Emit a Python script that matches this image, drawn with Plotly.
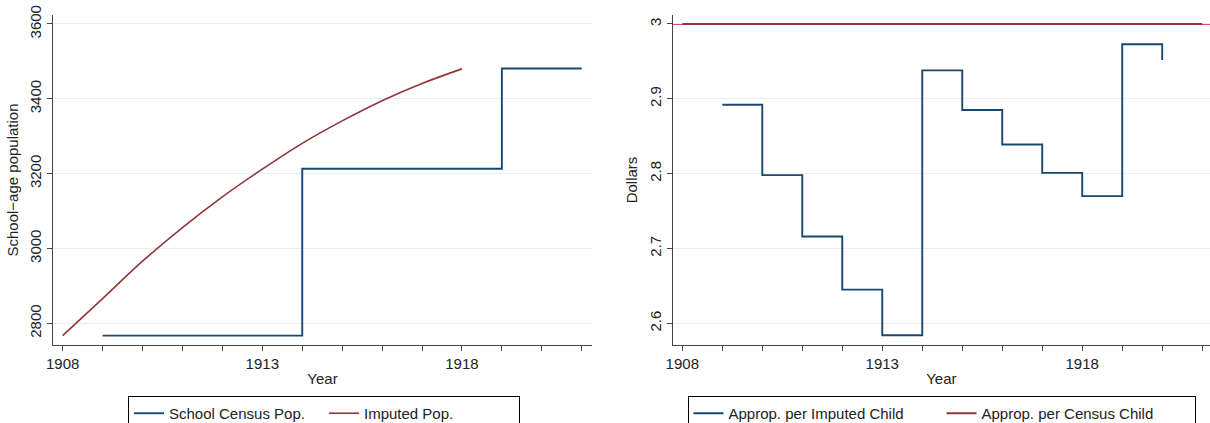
import plotly.graph_objects as go

# ---- data ----
census_years = [1909, 1910, 1911, 1912, 1913, 1914, 1915, 1916, 1917, 1918, 1919, 1920, 1921]
census_pop = [2767, 2767, 2767, 2767, 2767, 3213, 3213, 3213, 3213, 3213, 3481, 3481, 3481]

imputed_years = [1908, 1909, 1910, 1911, 1912, 1913, 1914, 1915, 1916, 1917, 1918]
imputed_pop = [2767, 2866, 2966, 3056, 3138, 3212, 3281, 3341, 3395, 3441, 3480]

approp_imp_years = [1909, 1910, 1911, 1912, 1913, 1914, 1915, 1916, 1917, 1918, 1919, 1920]
approp_imp = [2.892, 2.798, 2.716, 2.645, 2.584, 2.938, 2.885, 2.839, 2.801, 2.770, 2.973, 2.952]

approp_census_years = [1908, 1909, 1910, 1911, 1912, 1913, 1914, 1915, 1916, 1917, 1918, 1919, 1920, 1921]
approp_census = [3.0] * len(approp_census_years)

year_ticks = list(range(1908, 1922))
year_labels = [str(y) if y in (1908, 1913, 1918) else "" for y in year_ticks]
left_yticks = [2800, 3000, 3200, 3400, 3600]
right_yticks = [2.6, 2.7, 2.8, 2.9, 3.0]
right_yticklabels = ["2.6", "2.7", "2.8", "2.9", "3"]

BLUE = "#1a476f"
RED = "#90353b"
GRID = "#E6EEF0"
AXIS = "#444444"
FONT = "Liberation Sans, Arial, sans-serif"

W, H = 1210, 423
fig = go.Figure()

fig.add_trace(go.Scatter(x=census_years, y=census_pop, mode="lines", line_shape="hv",
                         line=dict(color=BLUE, width=1.9), name="School Census Pop.",
                         xaxis="x", yaxis="y", legend="legend"))
fig.add_trace(go.Scatter(x=imputed_years, y=imputed_pop, mode="lines", line_shape="spline",
                         line=dict(color=RED, width=1.6), name="Imputed Pop.",
                         xaxis="x", yaxis="y", legend="legend"))
fig.add_trace(go.Scatter(x=approp_imp_years, y=approp_imp, mode="lines", line_shape="hv",
                         line=dict(color=BLUE, width=1.9), name="Approp. per Imputed Child",
                         xaxis="x2", yaxis="y2", legend="legend2"))
fig.add_trace(go.Scatter(x=approp_census_years, y=approp_census, mode="lines",
                         line=dict(color=RED, width=2.2), name="Approp. per Census Child",
                         xaxis="x2", yaxis="y2", legend="legend2"))

# faint reference line extending across the right panel at the census value
fig.add_shape(type="line", xref="x2 domain", yref="y2", x0=0, x1=1,
              y0=approp_census[0], y1=approp_census[0],
              line=dict(color="#d8506e", width=2.2), layer="below")

ydom = [1 - 345 / H, 1 - 15 / H]
common_x = dict(tickmode="array", tickvals=year_ticks, ticktext=year_labels,
                ticks="outside", ticklen=5, tickcolor=AXIS, showline=True, linecolor=AXIS,
                linewidth=1, showgrid=False, zeroline=False, automargin=False,
                tickfont=dict(size=15, color="#222"),
                title=dict(text="Year", font=dict(size=15, color="#222"), standoff=2))
common_y = dict(ticks="outside", ticklen=5, tickcolor=AXIS, showline=True, linecolor=AXIS,
                linewidth=1, showgrid=True, gridcolor=GRID, gridwidth=1, zeroline=False,
                automargin=False, tickangle=-90, tickfont=dict(size=15, color="#222"))

fig.update_layout(
    width=W, height=H,
    margin=dict(l=0, r=0, t=0, b=0, autoexpand=False),
    paper_bgcolor="white", plot_bgcolor="white",
    font=dict(family=FONT, size=15, color="#222"),
    xaxis=dict(domain=[53.3 / W, 591.7 / W], range=[1907.765, 1921.25], anchor="y", **common_x),
    yaxis=dict(domain=ydom, range=[2742, 3624], anchor="x", tickvals=left_yticks,
               title=dict(text="School−age population", font=dict(size=15, color="#222"), standoff=5),
               **common_y),
    xaxis2=dict(domain=[672.7 / W, 1.0], range=[1907.76, 1921.195], anchor="y2", **common_x),
    yaxis2=dict(domain=ydom, range=[2.571, 3.012], anchor="x2", tickvals=right_yticks,
                ticktext=right_yticklabels,
                title=dict(text="Dollars", font=dict(size=15, color="#222"), standoff=5),
                **common_y),
    legend=dict(orientation="h", xref="container", yref="container", x=324 / W, y=1 - 396 / H,
                xanchor="center", yanchor="top", bordercolor="#000", borderwidth=1,
                font=dict(size=15, color="#222"), bgcolor="white", entrywidth=150),
    legend2=dict(orientation="h", xref="container", yref="container", x=941.5 / W, y=1 - 396 / H,
                 xanchor="center", yanchor="top", bordercolor="#000", borderwidth=1,
                 font=dict(size=15, color="#222"), bgcolor="white", entrywidth=208),
    showlegend=True,
    hovermode=False,
)

fig.write_html("out.html", config={"displayModeBar": False},
               post_script="document.body.style.margin='0';document.body.style.overflow='hidden';")
